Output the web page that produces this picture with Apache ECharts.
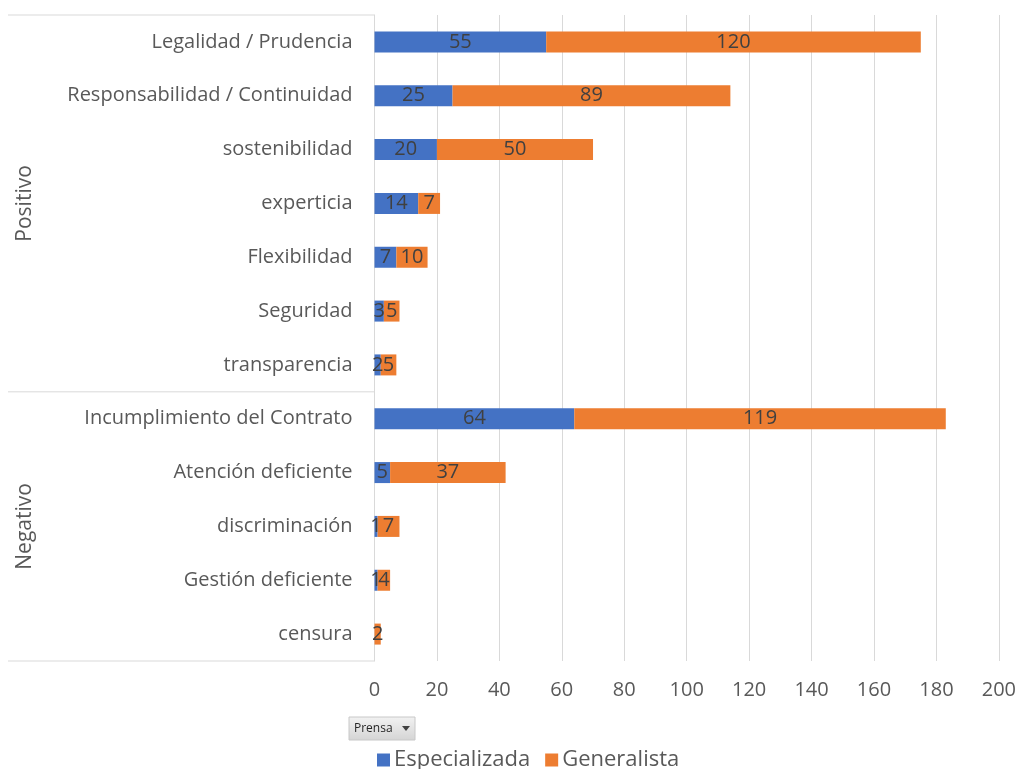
<!DOCTYPE html>
<html>
<head>
<meta charset="utf-8">
<script src="https://cdn.jsdelivr.net/npm/echarts@6/dist/echarts.min.js"></script>
<style>
  html, body { margin: 0; padding: 0; background: #ffffff; }
  #chart { width: 1019px; height: 769px; }
</style>
</head>
<body>
<div id="chart"></div>
<script>
// Categories, top to bottom
const categories = [
  'Legalidad / Prudencia',
  'Responsabilidad / Continuidad',
  'sostenibilidad',
  'experticia',
  'Flexibilidad',
  'Seguridad',
  'transparencia',
  'Incumplimiento del Contrato',
  'Atención deficiente',
  'discriminación',
  'Gestión deficiente',
  'censura'
];
// Group of each category block: name, first index, last index
const groups = [
  { name: 'Positivo', from: 0, to: 6 },
  { name: 'Negativo', from: 7, to: 11 }
];
const especializada = [55, 25, 20, 14, 7, 3, 2, 64, 5, 1, 1, 0];
const generalista = [120, 89, 50, 7, 10, 5, 5, 119, 37, 7, 4, 2];
const xTicks = { min: 0, max: 200, interval: 20 };

const FONT = 'Open Sans';
const GRID_COLOR = '#d9d9d9';
const TEXT_COLOR = '#595959';

const chart = echarts.init(document.getElementById('chart'), null, { renderer: 'canvas' });

const labelStyle = {
  show: true,
  position: 'inside',
  color: '#404040',
  fontFamily: FONT,
  fontSize: 20,
  formatter: p => (p.value ? String(p.value) : '')
};

chart.setOption({
  animation: false,
  textStyle: { fontFamily: FONT },
  grid: { left: 374.5, right: 19.5, top: 15, bottom: 108, containLabel: false },
  xAxis: {
    type: 'value',
    min: xTicks.min,
    max: xTicks.max,
    interval: xTicks.interval,
    axisLine: { show: false },
    axisTick: { show: false },
    splitLine: { show: true, lineStyle: { color: GRID_COLOR, width: 1 } },
    axisLabel: { color: TEXT_COLOR, fontSize: 20, fontFamily: FONT, margin: 19 }
  },
  yAxis: {
    type: 'category',
    inverse: true,
    data: categories,
    axisLine: { show: true, lineStyle: { color: GRID_COLOR, width: 1 } },
    axisTick: { show: false },
    splitLine: { show: false },
    axisLabel: { color: TEXT_COLOR, fontSize: 20, fontFamily: FONT, margin: 22 }
  },
  legend: {
    left: 372,
    top: 744,
    itemWidth: 13,
    itemHeight: 13,
    itemGap: 15,
    icon: 'rect',
    textStyle: { color: TEXT_COLOR, fontSize: 22, fontFamily: FONT, padding: [0, 0, 0, -1] },
    data: ['Especializada', 'Generalista']
  },
  series: [
    {
      name: 'Especializada',
      type: 'bar',
      stack: 'total',
      barWidth: '39%',
      itemStyle: { color: '#4472C4' },
      label: labelStyle,
      data: especializada
    },
    {
      name: 'Generalista',
      type: 'bar',
      stack: 'total',
      barWidth: '39%',
      itemStyle: { color: '#ED7D31' },
      label: labelStyle,
      data: generalista
    }
  ]
});

// Group frame, group titles and the "Prensa" field button
function drawExtras() {
  const yOf = i => chart.convertToPixel({ yAxisIndex: 0 }, i);
  const band = yOf(1) - yOf(0);
  const axisX = chart.convertToPixel({ xAxisIndex: 0 }, 0);
  const frameLeft = 8;
  const elements = [];
  const lineStyle = { stroke: GRID_COLOR, lineWidth: 1 };

  const topY = yOf(0) - band / 2;
  elements.push({ type: 'line', shape: { x1: frameLeft, y1: topY, x2: axisX, y2: topY }, style: lineStyle, silent: true });

  groups.forEach(g => {
    const y0 = yOf(g.from) - band / 2;
    const y1 = yOf(g.to) + band / 2;
    elements.push({ type: 'line', shape: { x1: frameLeft, y1: y1, x2: axisX, y2: y1 }, style: lineStyle, silent: true });
    elements.push({
      type: 'text',
      x: 25,
      y: (y0 + y1) / 2,
      rotation: Math.PI / 2,
      style: {
        text: g.name,
        fill: TEXT_COLOR,
        font: '21px "' + FONT + '"',
        align: 'center',
        verticalAlign: 'middle'
      },
      silent: true
    });
  });

  // field button
  elements.push({
    type: 'group',
    x: 349,
    y: 717,
    children: [
      {
        type: 'rect',
        shape: { x: 0, y: 0, width: 66, height: 23 },
        style: {
          fill: new echarts.graphic.LinearGradient(0, 0, 0, 1, [
            { offset: 0, color: '#f2f2f2' },
            { offset: 1, color: '#d4d4d4' }
          ]),
          stroke: '#c8c8c8',
          lineWidth: 1
        }
      },
      {
        type: 'text',
        x: 5,
        y: 11.5,
        style: { text: 'Prensa', fill: '#262626', font: '12px "' + FONT + '"', verticalAlign: 'middle' }
      },
      {
        type: 'polygon',
        shape: { points: [[53, 9], [61, 9], [57, 14]] },
        style: { fill: '#404040' }
      }
    ]
  });

  chart.setOption({ graphic: elements });
}
drawExtras();
</script>
</body>
</html>
